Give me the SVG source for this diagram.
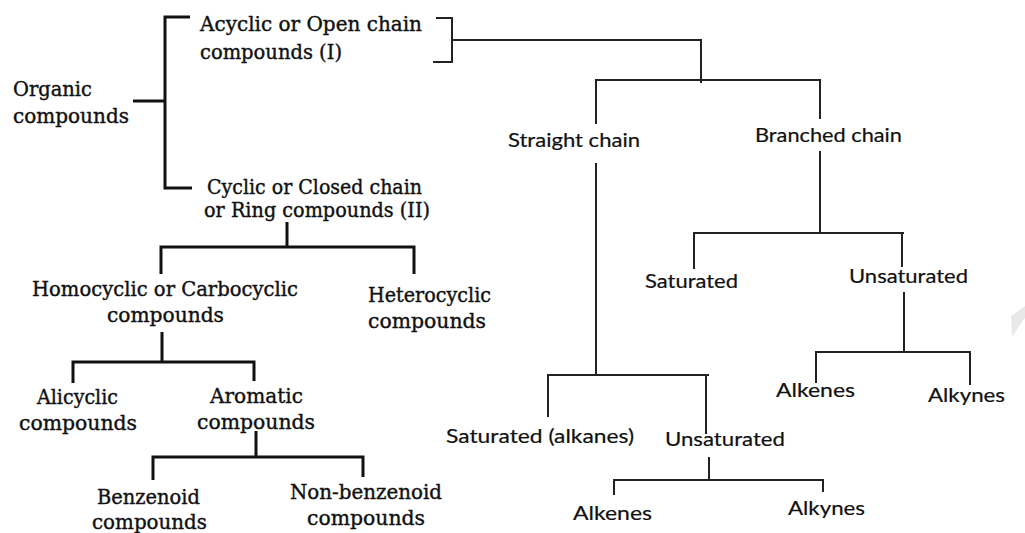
<svg xmlns="http://www.w3.org/2000/svg" width="1025" height="533" viewBox="0 0 1025 533">
<style>
.s{font-family:"DejaVu Serif","Liberation Serif",serif;font-size:21px;fill:#111;stroke:#111;stroke-width:0.4}
.n{font-family:Lato,"Open Sans","Liberation Sans",sans-serif;font-size:19.5px;fill:#111;stroke:#111;stroke-width:0.2}
.thick{fill:none;stroke:#111;stroke-width:3}
.thin{fill:none;stroke:#222;stroke-width:2}
</style>
<rect width="1025" height="533" fill="#fff"/>
<g id="connectors">
<path class="thick" d="M133,101 H165 M190,17 H165 V188 H192"/>
<path class="thick" d="M287,222 V247 M161,274 V247 H414 V274"/>
<path class="thick" d="M162,332 V362 M73,383 V362 H254 V381"/>
<path class="thick" d="M256,431 V457 M153,480 V457 H363 V477"/>
<path class="thin" d="M436,18 H452 V62 H433 M452,40 H701 V83"/>
<path class="thin" d="M596,124 V80 H820 V119"/>
<path class="thin" d="M596,163 V375 M548,417 V375 H709 M706,375 V434"/>
<path class="thin" d="M709,457 V480 M614,495 V480 H824 M823,480 V492"/>
<path class="thin" d="M820,151 V233 M694,269 V233 H904 M902,233 V267"/>
<path class="thin" d="M904,292 V351 M816,383 V352 H971 M970,352 V385"/>
</g>
<g id="organic"><text class="s" x="13" y="96" textLength="79" lengthAdjust="spacingAndGlyphs">Organic</text><text class="s" x="13" y="123" textLength="116" lengthAdjust="spacingAndGlyphs">compounds</text></g>
<g id="acyclic"><text class="s" x="200" y="31" textLength="222" lengthAdjust="spacingAndGlyphs">Acyclic or Open chain</text><text class="s" x="200" y="59" textLength="142" lengthAdjust="spacingAndGlyphs">compounds (I)</text></g>
<g id="cyclic"><text class="s" x="207" y="194" textLength="215" lengthAdjust="spacingAndGlyphs">Cyclic or Closed chain</text><text class="s" x="204" y="217" textLength="226" lengthAdjust="spacingAndGlyphs">or Ring compounds (II)</text></g>
<g id="homocyclic"><text class="s" x="32" y="296" textLength="266" lengthAdjust="spacingAndGlyphs">Homocyclic or Carbocyclic</text><text class="s" x="107" y="322" textLength="117" lengthAdjust="spacingAndGlyphs">compounds</text></g>
<g id="heterocyclic"><text class="s" x="368" y="302" textLength="123" lengthAdjust="spacingAndGlyphs">Heterocyclic</text><text class="s" x="368" y="328" textLength="118" lengthAdjust="spacingAndGlyphs">compounds</text></g>
<g id="alicyclic"><text class="s" x="37" y="404" textLength="81" lengthAdjust="spacingAndGlyphs">Alicyclic</text><text class="s" x="19" y="430" textLength="118" lengthAdjust="spacingAndGlyphs">compounds</text></g>
<g id="aromatic"><text class="s" x="210" y="403" textLength="93" lengthAdjust="spacingAndGlyphs">Aromatic</text><text class="s" x="197" y="429" textLength="118" lengthAdjust="spacingAndGlyphs">compounds</text></g>
<g id="benzenoid"><text class="s" x="97" y="504" textLength="103" lengthAdjust="spacingAndGlyphs">Benzenoid</text><text class="s" x="92" y="529" textLength="115" lengthAdjust="spacingAndGlyphs">compounds</text></g>
<g id="nonbenzenoid"><text class="s" x="290" y="499" textLength="152" lengthAdjust="spacingAndGlyphs">Non-benzenoid</text><text class="s" x="307" y="525" textLength="118" lengthAdjust="spacingAndGlyphs">compounds</text></g>
<g id="straight"><text class="n" x="508" y="146.5" textLength="132" lengthAdjust="spacingAndGlyphs">Straight chain</text></g>
<g id="branched"><text class="n" x="755" y="142" textLength="147" lengthAdjust="spacingAndGlyphs">Branched chain</text></g>
<g id="b-saturated"><text class="n" x="645" y="288" textLength="93" lengthAdjust="spacingAndGlyphs">Saturated</text></g>
<g id="b-unsaturated"><text class="n" x="849" y="283" textLength="119" lengthAdjust="spacingAndGlyphs">Unsaturated</text></g>
<g id="b-alkenes"><text class="n" x="776" y="397" textLength="79" lengthAdjust="spacingAndGlyphs">Alkenes</text></g>
<g id="b-alkynes"><text class="n" x="928" y="402" textLength="77" lengthAdjust="spacingAndGlyphs">Alkynes</text></g>
<g id="s-saturated"><text class="n" x="446" y="443" textLength="188" lengthAdjust="spacingAndGlyphs">Saturated (alkanes)</text></g>
<g id="s-unsaturated"><text class="n" x="665" y="446" textLength="120" lengthAdjust="spacingAndGlyphs">Unsaturated</text></g>
<g id="s-alkenes"><text class="n" x="573" y="520" textLength="79" lengthAdjust="spacingAndGlyphs">Alkenes</text></g>
<g id="s-alkynes"><text class="n" x="788" y="515" textLength="77" lengthAdjust="spacingAndGlyphs">Alkynes</text></g>
<polygon points="1011,316 1025,306 1025,318 1019,326 1012,337" fill="#e8e8e8"/>
</svg>
